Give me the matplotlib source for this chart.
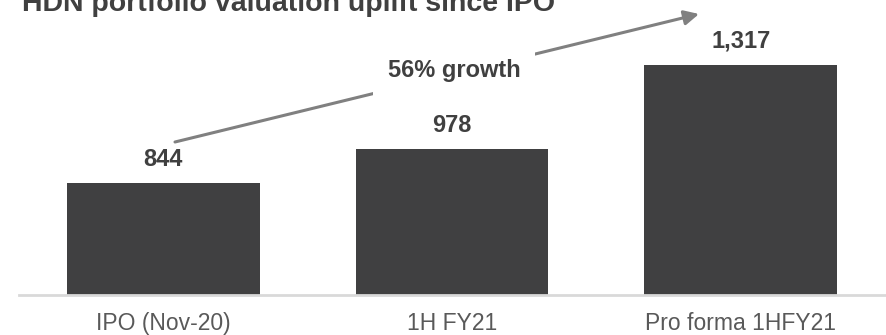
import matplotlib
matplotlib.use("Agg")
import matplotlib.pyplot as plt

categories = ["IPO (Nov-20)", "1H FY21", "Pro forma 1HFY21"]
values = [844, 978, 1317]
value_labels = ["844", "978", "1,317"]
title = "HDN portfolio valuation uplift since IPO"
growth_label = "56% growth"

plt.rcParams['font.family'] = ['Liberation Sans', 'DejaVu Sans']

W, H = 886, 335
fig = plt.figure(figsize=(W / 100, H / 100), dpi=100)
ax = fig.add_axes([19 / W, 1 - 295 / H, 866 / W, 295 / H])

x = list(range(len(categories)))
ax.bar(x, values, width=0.667, color='#404041', zorder=2)
ax.set_xlim(-0.5, len(categories) - 0.5)
ax.set_ylim(395, 1577)

for xi, v, lab in zip(x, values, value_labels):
    ax.annotate(lab, (xi, v), xytext=(0, 12.3), textcoords='offset points',
                ha='center', va='baseline', fontsize=17, fontweight='bold',
                color='#404040')

for s in ['top', 'right', 'left']:
    ax.spines[s].set_visible(False)
ax.spines['bottom'].set_color('#d9d9d9')
ax.spines['bottom'].set_linewidth(2)
ax.set_yticks([])
ax.set_xticks(x)
ax.set_xticklabels(categories, fontsize=16.5, color='#595959')
ax.tick_params(axis='x', length=0, pad=12)

# growth arrow
fig.patches  # noqa
ax.annotate('', xy=(699 / W, 1 - 14 / H), xycoords='figure fraction',
            xytext=(175 / W, 1 - 142 / H), textcoords='figure fraction',
            arrowprops=dict(arrowstyle='-|>', color='#808080', lw=2.2,
                            mutation_scale=22, shrinkA=0, shrinkB=0),
            zorder=3, annotation_clip=False)
fig.text(454 / W, 1 - 71 / H, growth_label, ha='center', va='center',
         fontsize=17, fontweight='bold', color='#404040', zorder=5,
         bbox=dict(boxstyle='square,pad=0.6', fc='white', ec='none'))

fig.text(22 / W, 1 - 11 / H, title, ha='left', va='baseline',
         fontsize=20.5, fontweight='bold', color='#404040')

fig.savefig('out.png', dpi=100)
